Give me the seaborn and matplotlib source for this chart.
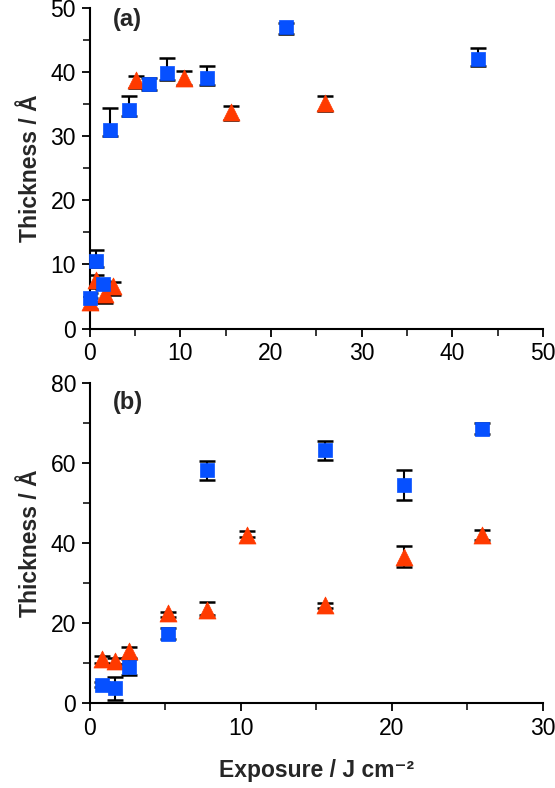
import matplotlib
matplotlib.use("Agg")
import matplotlib.pyplot as plt
import seaborn as sns
import pandas as pd
from matplotlib.ticker import MultipleLocator

sns.set_style("ticks")
plt.rcParams['font.family'] = ['Liberation Sans', 'DejaVu Sans']

BLUE = "#0650ff"
RED = "#ff3a00"

# panel (a)
a_blue_x = [0.0, 0.7, 1.4, 2.2, 4.3, 6.5, 8.5, 12.9, 21.6, 42.9]
a_blue_y = [4.8, 10.6, 6.9, 31.0, 34.1, 38.1, 39.9, 39.0, 47.0, 42.0]
a_blue_lo = [0.7, 1.0, 0.8, 1.0, 0.9, 0.9, 1.1, 1.0, 1.0, 1.1]
a_blue_hi = [0.7, 1.7, 0.5, 3.4, 2.1, 1.0, 2.3, 2.0, 0.6, 1.7]

a_red_x = [0.0, 0.7, 1.7, 2.5, 5.1, 10.4, 15.6, 25.9]
a_red_y = [4.2, 7.5, 5.4, 6.6, 38.7, 39.0, 33.8, 35.1]
a_red_lo = [1.2, 1.1, 1.4, 1.3, 1.2, 1.1, 1.3, 1.1]
a_red_hi = [0.5, 0.9, 0.8, 0.7, 0.7, 1.1, 0.9, 1.1]

# panel (b)
b_blue_x = [0.82, 1.66, 2.58, 5.19, 7.77, 15.6, 20.8, 26.0]
b_blue_y = [4.6, 3.7, 9.0, 17.3, 58.2, 63.3, 54.5, 68.6]
b_blue_lo = [0.6, 2.9, 2.1, 1.2, 2.5, 2.5, 3.8, 1.3]
b_blue_hi = [0.6, 2.8, 2.0, 1.4, 2.3, 2.3, 3.7, 1.3]

b_red_x = [0.82, 1.66, 2.58, 5.19, 7.77, 10.4, 15.6, 20.8, 26.0]
b_red_y = [11.0, 10.4, 12.9, 22.5, 23.3, 42.1, 24.6, 36.4, 42.1]
b_red_lo = [1.0, 0.6, 1.6, 1.0, 1.3, 0.6, 0.8, 2.4, 1.3]
b_red_hi = [0.7, 0.8, 1.0, 0.3, 1.9, 0.8, 0.4, 2.8, 1.1]


def draw_series(ax, x, y, lo, hi, color, marker, size):
    ax.errorbar(x, y, yerr=[lo, hi], fmt="none", ecolor="black",
                elinewidth=1.5, capsize=6, capthick=1.8, zorder=2)
    df = pd.DataFrame({"x": x, "y": y})
    sns.scatterplot(data=df, x="x", y="y", ax=ax, color=color, marker=marker,
                    s=size, edgecolor=color, linewidth=0.5, zorder=3, legend=False)


def style_axes(ax, xmax, ymax, xmajor, ymajor, label, label_y):
    ax.set_xlim(0, xmax)
    ax.set_ylim(0, ymax)
    ax.xaxis.set_major_locator(MultipleLocator(xmajor))
    ax.xaxis.set_minor_locator(MultipleLocator(xmajor / 2))
    ax.yaxis.set_major_locator(MultipleLocator(ymajor))
    ax.yaxis.set_minor_locator(MultipleLocator(ymajor / 2))
    sns.despine(ax=ax)
    for s in ["left", "bottom"]:
        ax.spines[s].set_linewidth(1.5)
        ax.spines[s].set_color("black")
    ax.tick_params(which="major", length=6, width=1.3, labelsize=16.5, colors="black", pad=4)
    ax.tick_params(which="minor", length=5, width=1.3)
    ax.set_ylabel("Thickness / Å", fontsize=16.5, fontweight="bold", labelpad=6)
    ax.set_xlabel("")
    ax.text(0.05, label_y, label, transform=ax.transAxes, fontsize=17,
            fontweight="bold", va="center", ha="left")


fig = plt.figure(figsize=(5.55, 7.88), dpi=100)
ax_a = fig.add_axes([0.162, 0.583, 0.816, 0.407])
ax_b = fig.add_axes([0.162, 0.108, 0.816, 0.406])

draw_series(ax_a, a_red_x, a_red_y, a_red_lo, a_red_hi, RED, "^", 150)
draw_series(ax_a, a_blue_x, a_blue_y, a_blue_lo, a_blue_hi, BLUE, "s", 115)
style_axes(ax_a, 50, 50, 10, 10, "(a)", 0.965)

draw_series(ax_b, b_red_x, b_red_y, b_red_lo, b_red_hi, RED, "^", 150)
draw_series(ax_b, b_blue_x, b_blue_y, b_blue_lo, b_blue_hi, BLUE, "s", 115)
style_axes(ax_b, 30, 80, 10, 20, "(b)", 0.94)
ax_b.set_xlabel("Exposure / J cm⁻²", fontsize=16.5, fontweight="bold", labelpad=14)

for ax in (ax_a, ax_b):
    for coll in ax.collections:
        coll.set_clip_on(False)

fig.savefig("out.png", dpi=100)
plt.close(fig)
